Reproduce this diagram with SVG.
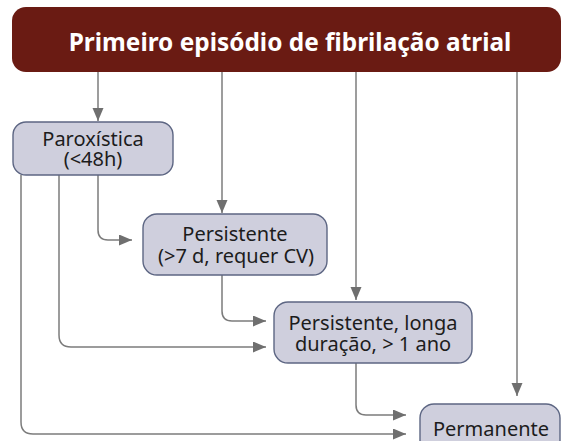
<svg xmlns="http://www.w3.org/2000/svg" width="562" height="441" viewBox="0 0 562 441">
<style>
.node{fill:#cfcfdd;stroke:#5d6683;stroke-width:1.4}
.lbl{font-family:"Noto Sans",sans-serif;font-size:20px;fill:#1c1c1c;text-anchor:middle}
.ttl{font-family:"Noto Sans",sans-serif;font-size:24.4px;font-weight:bold;fill:#ffffff;text-anchor:middle}
.con{fill:none;stroke:#7c7c7c;stroke-width:1.5}
</style>
<defs>
<marker id="ah" markerUnits="userSpaceOnUse" markerWidth="14" markerHeight="12" refX="13" refY="5.5" orient="auto">
<path d="M0,0 L13,5.5 L0,11 z" fill="#6f6f6f"/>
</marker>
</defs>
<g id="title">
<rect x="12" y="7" width="549" height="65" rx="14" fill="#6a1b13"/>
<text class="ttl" x="290" y="51">Primeiro episódio de fibrilação atrial</text>
</g>
<g id="connectors">
<path class="con" d="M98,72 V121" marker-end="url(#ah)"/>
<path class="con" d="M222,72 V213" marker-end="url(#ah)"/>
<path class="con" d="M356,72 V300" marker-end="url(#ah)"/>
<path class="con" d="M517,72 V396" marker-end="url(#ah)"/>
<path class="con" d="M98,175 V230 Q98,240 108,240 H132" marker-end="url(#ah)"/>
<path class="con" d="M59,175 V335 Q59,347 71,347 H266" marker-end="url(#ah)"/>
<path class="con" d="M21,175 V422 Q21,434 33,434 H406" marker-end="url(#ah)"/>
<path class="con" d="M222,275 V311 Q222,321 232,321 H266" marker-end="url(#ah)"/>
<path class="con" d="M356,363 V405 Q356,415 366,415 H406" marker-end="url(#ah)"/>
</g>
<g id="paroxistica">
<rect class="node" x="13" y="122" width="160" height="53" rx="13"/>
<text class="lbl" x="93" y="146">Paroxística</text>
<text class="lbl" x="93" y="166">(&lt;48h)</text>
</g>
<g id="persistente">
<rect class="node" x="143" y="214" width="184" height="61" rx="14"/>
<text class="lbl" x="235" y="241">Persistente</text>
<text class="lbl" x="236" y="263">(&gt;7 d, requer CV)</text>
</g>
<g id="persistente-longa">
<rect class="node" x="274" y="302" width="198" height="61" rx="14"/>
<text class="lbl" x="373" y="330">Persistente, longa</text>
<text class="lbl" x="373" y="351">duração, &gt; 1 ano</text>
</g>
<g id="permanente">
<rect class="node" x="420" y="404" width="140" height="50" rx="14"/>
<text class="lbl" x="491" y="436">Permanente</text>
</g>
</svg>
